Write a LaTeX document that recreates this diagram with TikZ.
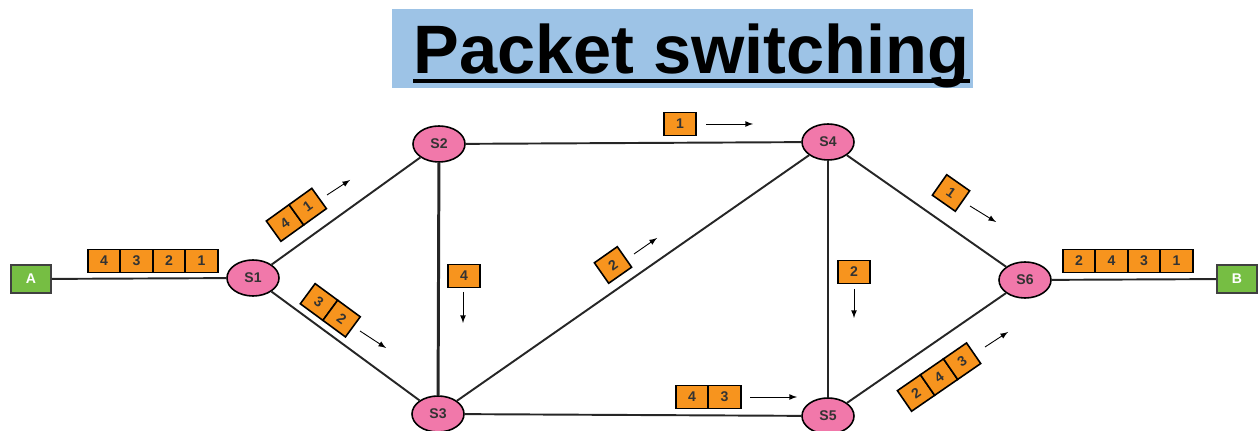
\documentclass[tikz,border=0pt]{standalone}
\usepackage{fontspec}
\setmainfont{Liberation Sans}
\usepackage{xcolor}
\usepackage{tikz}
\usetikzlibrary{positioning,shapes,arrows}

\definecolor{pktorange}{RGB}{247,148,30}
\definecolor{swpink}{RGB}{241,120,170}
\definecolor{hostgreen}{RGB}{118,190,67}
\definecolor{titleblue}{RGB}{157,195,230}

\tikzset{
  switch/.style={draw, ellipse, fill=swpink, line width=0.9pt, minimum width=1.04cm, minimum height=0.72cm, inner sep=0pt, font=\footnotesize\bfseries, text=black!80},
  host/.style={draw=black!75, fill=hostgreen, line width=1.1pt, minimum width=0.8cm, minimum height=0.55cm, inner sep=0pt, text=white, font=\footnotesize\bfseries},
  pkt/.style={draw, fill=pktorange, line width=0.9pt, minimum width=0.65cm, minimum height=0.46cm, inner sep=0pt, outer sep=0pt, font=\footnotesize\bfseries, text=black!80},
  tilt/.style={pkt, minimum width=0.56cm, minimum height=0.5cm},
  link/.style={line width=1.1pt, black!85},
  flow/.style={->, >=latex, line width=0.5pt}
}

\begin{document}
\begin{tikzpicture}[x=0.2cm,y=0.2cm]
  \useasboundingbox (0,0) rectangle (126,43.1);

  % title
  \fill[titleblue] (39.2,34.3) rectangle (97.3,42.2);
  \node[anchor=base, inner sep=0pt, font=\fontsize{39}{40}\selectfont\bfseries] (title) at (69.15,35.7) {Packet switching};
  \draw[line width=2.2pt] ([yshift=-4pt]title.base west) -- ([yshift=-4pt]title.base east);

  % hosts and switches
  \node[host] (a) at (3.1,15.2) {A};
  \node[switch] (s1) at (25.3,15.3) {S1};
  \node[switch] (s2) at (43.9,28.7) {S2};
  \node[switch] (s3) at (43.8,1.7) {S3};
  \node[switch] (s4) at (82.8,28.9) {S4};
  \node[switch] (s5) at (82.8,1.5) {S5};
  \node[switch] (s6) at (102.5,15.1) {S6};
  \node[host] (b) at (123.7,15.2) {B};

  \foreach \from/\to in {a/s1, s1/s2, s1/s3, s2/s4, s3/s4, s3/s5, s4/s5, s4/s6, s5/s6, s6/b}
    \draw[link] (\from) -- (\to);
  \draw[link, line width=1.7pt] (s2) -- (s3);

  % packets A -- S1
  \node[pkt] (pa4) at (10.4,17.0) {4};
  \node[pkt, right=0pt of pa4] (pa3) {3};
  \node[pkt, right=0pt of pa3] (pa2) {2};
  \node[pkt, right=0pt of pa2] (pa1) {1};

  % S1 -- S2
  \node[tilt, rotate=35.7] (pb4) at (28.5,20.8) {4};
  \node[tilt, rotate=35.7, right=0pt of pb4] (pb1) {1};
  \draw[flow] (32.7,23.6) -- (35.0,25.1);

  % S1 -- S3
  \node[tilt, rotate=-36.3] (pc3) at (31.9,12.9) {3};
  \node[tilt, rotate=-36.3, right=0pt of pc3] (pc2) {2};
  \draw[flow] (36.0,10.0) -- (38.6,8.3);

  % S2 -- S3
  \node[pkt] (pd4) at (46.4,15.5) {4};
  \draw[flow] (46.3,13.9) -- (46.3,10.8);

  % S2 -- S4
  \node[pkt] (pe1) at (68.0,30.7) {1};
  \draw[flow] (70.6,30.7) -- (75.3,30.7);

  % S3 -- S4
  \node[tilt, rotate=35] (pf2) at (61.3,16.6) {2};
  \draw[flow] (63.4,17.7) -- (65.7,19.3);

  % S3 -- S5
  \node[pkt] (pg4) at (69.2,3.4) {4};
  \node[pkt, right=0pt of pg4] (pg3) {3};
  \draw[flow] (75.0,3.4) -- (79.7,3.4);

  % S4 -- S5
  \node[pkt] (ph2) at (85.4,15.9) {2};
  \draw[flow] (85.4,14.2) -- (85.4,11.3);

  % S4 -- S6
  \node[tilt, rotate=-35] (pi1) at (95.1,23.8) {1};
  \draw[flow] (97.0,22.5) -- (99.6,20.9);

  % S5 -- S6
  \node[tilt, rotate=34.6] (pj2) at (91.6,3.8) {2};
  \node[tilt, rotate=34.6, right=0pt of pj2] (pj4) {4};
  \node[tilt, rotate=34.6, right=0pt of pj4] (pj3) {3};
  \draw[flow] (98.5,8.4) -- (100.8,9.9);

  % S6 -- B
  \node[pkt] (pk2) at (107.9,17.0) {2};
  \node[pkt, right=0pt of pk2] (pk4) {4};
  \node[pkt, right=0pt of pk4] (pk3) {3};
  \node[pkt, right=0pt of pk3] (pk1) {1};
\end{tikzpicture}
\end{document}
